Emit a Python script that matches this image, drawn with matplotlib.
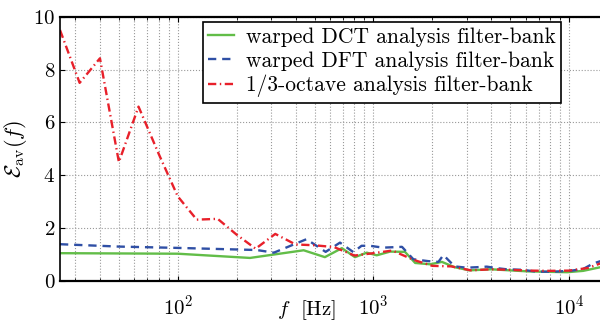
import numpy as np
import matplotlib
matplotlib.use("Agg")
import matplotlib.pyplot as plt
from matplotlib.ticker import LogLocator, NullFormatter

plt.rcParams['font.family'] = 'serif'
plt.rcParams['font.serif'] = ['cmr10', 'DejaVu Serif']
plt.rcParams['mathtext.fontset'] = 'cm'
plt.rcParams['axes.formatter.use_mathtext'] = True

# warped DCT analysis filter-bank
f_dct = [25, 100, 234, 440, 565, 690, 805, 925, 1040, 1217, 1450, 1635,
         1950, 2240, 2600, 3100, 4000, 6200, 9800, 11800, 14500]
e_dct = [1.05, 1.03, 0.87, 1.16, 0.90, 1.24, 0.90, 1.07, 0.97, 1.11, 1.10, 0.68,
         0.63, 0.72, 0.52, 0.40, 0.44, 0.36, 0.33, 0.38, 0.52]

# warped DFT analysis filter-bank
f_dft = [25, 50, 100, 200, 253, 310, 455, 570, 675, 790, 870, 960, 1120,
         1400, 1600, 1900, 2150, 2280, 2600, 3000, 3400, 3800, 4300, 4800,
         5800, 6800, 8300, 10100, 11800, 13300, 14500]
e_dft = [1.39, 1.30, 1.25, 1.19, 1.17, 1.07, 1.58, 1.10, 1.45, 1.09, 1.33, 1.33, 1.26,
         1.29, 0.82, 0.75, 0.72, 0.98, 0.55, 0.50, 0.52, 0.54, 0.48, 0.44,
         0.42, 0.35, 0.35, 0.38, 0.45, 0.66, 0.75]

# 1/3-octave analysis filter-bank
f_oct = [25, 31.5, 40, 50, 63, 80, 100, 125, 160, 200, 250, 315, 400, 500,
         630, 800, 1000, 1250, 1600, 2000, 2500, 3150, 4000, 5000, 6300,
         8000, 10000, 12500, 16000]
e_oct = [9.5, 7.5, 8.43, 4.5, 6.6, 4.8, 3.2, 2.32, 2.35, 1.75, 1.22, 1.78, 1.38, 1.35,
         1.28, 0.96, 1.05, 1.15, 0.80, 0.57, 0.55, 0.40, 0.44, 0.42, 0.39,
         0.38, 0.39, 0.49, 0.78]

fig = plt.figure(figsize=(6.0, 3.24), dpi=100)
ax = fig.add_axes([0.1, 0.133, 0.9, 0.815])

ax.plot(f_dct, e_dct, color='#62bd48', lw=1.7, ls='-',
        label='warped DCT analysis filter-bank')
ax.plot(f_dft, e_dft, color='#2f4fa5', lw=1.7, ls=(0, (3.5, 2.5)),
        label='warped DFT analysis filter-bank')
ax.plot(f_oct, e_oct, color='#e8202a', lw=1.7, ls=(0, (3.5, 1.5, 0.6, 1.5)),
        label='1/3-octave analysis filter-bank')

ax.set_xscale('log')
ax.set_xlim(25, 14400)
ax.set_ylim(0, 10)
ax.set_yticks([0, 2, 4, 6, 8, 10])
ax.xaxis.set_minor_locator(LogLocator(base=10, subs=np.arange(2, 10)))
ax.xaxis.set_minor_formatter(NullFormatter())

ax.grid(True, which='major', color='#999999', ls=':', lw=0.8)
ax.grid(True, which='minor', axis='x', color='#999999', ls=':', lw=0.8)

ax.tick_params(which='both', direction='in', top=True, right=False, labelsize=15)
ax.tick_params(axis='x', which='major', pad=10)
ax.spines['right'].set_visible(False)
for s in ['bottom', 'top']:
    ax.spines[s].set_linewidth(1.6)
ax.spines['left'].set_linewidth(1.2)

ax.set_ylabel(r'$\mathcal{E}_{\rm av}(f)$', fontsize=16, labelpad=3)
ax.set_xlabel(r'$f\ $ [Hz]', fontsize=15)
ax.xaxis.set_label_coords(0.457, -0.065)

leg = ax.legend(loc='upper left', bbox_to_anchor=(0.265, 0.981), borderaxespad=0,
                fontsize=15.5, fancybox=False, framealpha=1, edgecolor='black',
                borderpad=0.25, labelspacing=0.2, handlelength=1.2,
                handletextpad=0.55)
leg.get_frame().set_linewidth(1.2)

fig.savefig('out.png', dpi=100)
